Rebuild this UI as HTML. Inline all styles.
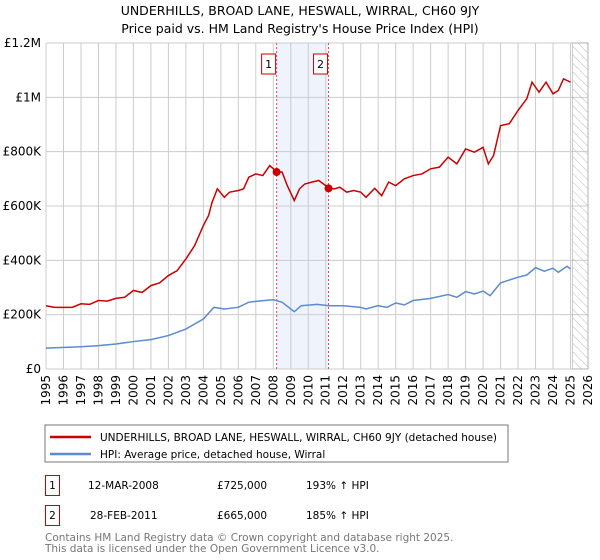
<!DOCTYPE html>
<html><head><meta charset="utf-8"><style>
body{margin:0;background:#fff;font-family:"Liberation Sans","DejaVu Sans",sans-serif;}
svg{display:block}
</style></head><body>
<svg width="600" height="560" viewBox="0 0 600 560" xmlns="http://www.w3.org/2000/svg" font-family="DejaVu Sans, Liberation Sans, sans-serif">
<defs><pattern id="hatch" patternUnits="userSpaceOnUse" width="6" height="6" patternTransform="rotate(-45)"><line x1="0" y1="0" x2="0" y2="6" stroke="#bbb" stroke-width="1"/></pattern></defs>
<text x="300" y="15" text-anchor="middle" font-size="12.5" fill="#000">UNDERHILLS, BROAD LANE, HESWALL, WIRRAL, CH60 9JY</text>
<text x="300" y="33" text-anchor="middle" font-size="12.5" fill="#000">Price paid vs. HM Land Registry's House Price Index (HPI)</text>
<g id="grid"></g><g id="marks"></g><g id="axes"></g>
<rect x="45" y="425" width="463" height="37" fill="#fff" stroke="#777"/>
<line x1="50" y1="437" x2="91" y2="437" stroke="#cc0000" stroke-width="2.5"/>
<text x="100" y="441" font-size="10.5">UNDERHILLS, BROAD LANE, HESWALL, WIRRAL, CH60 9JY (detached house)</text>
<line x1="50" y1="454" x2="91" y2="454" stroke="#5b8bd0" stroke-width="2.5"/>
<text x="100" y="458" font-size="10.5">HPI: Average price, detached house, Wirral</text>
<g font-size="10.5">
<rect x="45.5" y="475.5" width="14" height="20" fill="#fff" stroke="#cc0000"/>
<text x="52.5" y="489" text-anchor="middle">1</text>
<text x="88" y="489">12-MAR-2008</text>
<text x="217" y="489">£725,000</text>
<text x="306" y="489">193% ↑ HPI</text>
<rect x="45.5" y="505.5" width="14" height="20" fill="#fff" stroke="#cc0000"/>
<text x="52.5" y="519" text-anchor="middle">2</text>
<text x="90" y="519">28-FEB-2011</text>
<text x="217" y="519">£665,000</text>
<text x="306" y="519">185% ↑ HPI</text>
</g>
<text x="45" y="541" font-size="10.5" fill="#777">Contains HM Land Registry data © Crown copyright and database right 2025.</text>
<text x="45" y="552" font-size="10.5" fill="#777">This data is licensed under the Open Government Licence v3.0.</text>
</svg>
<script>
const redYears=[1995,1995.5,1996.5,1997,1997.5,1998,1998.5,1999,1999.5,2000,2000.5,2001,2001.5,2002,2002.5,2003,2003.5,2004,2004.3,2004.5,2004.8,2005.2,2005.5,2006,2006.3,2006.6,2007,2007.4,2007.8,2008.2,2008.5,2008.8,2009.2,2009.5,2009.8,2010.2,2010.6,2011.0,2011.2,2011.5,2011.8,2012.2,2012.6,2013.0,2013.3,2013.8,2014.2,2014.6,2015,2015.5,2016,2016.5,2017,2017.5,2018,2018.5,2019,2019.5,2020,2020.3,2020.6,2021,2021.5,2022,2022.5,2022.8,2023.2,2023.6,2024,2024.3,2024.6,2025.0];
const redValues=[233,227,227,240,238,252,250,260,264,289,282,307,317,344,362,405,454,528,565,614,663,632,651,657,663,706,718,712,749,725,725,675,620,663,681,688,694,675,665,663,669,651,657,651,632,665,638,688,675,700,712,718,737,743,780,755,810,798,816,755,786,896,903,952,995,1056,1019,1056,1013,1025,1068,1056];
const hpiYears=[1995,1997,1998,1999,2000,2001,2002,2003,2004,2004.6,2005.2,2006,2006.6,2007.5,2008,2008.5,2009.2,2009.6,2010.5,2011.2,2012,2013,2013.3,2014,2014.5,2015,2015.5,2016,2017,2018,2018.5,2019,2019.5,2020,2020.4,2021,2022,2022.5,2023,2023.5,2024,2024.3,2024.8,2025];
const hpiValues=[77,82,86,92,101,108,123,147,184,227,221,227,246,252,255,246,211,233,238,233,233,227,221,233,227,243,236,252,260,274,264,285,276,287,270,317,338,346,373,360,371,356,378,368];
const saleYears=[2008.19,2011.16];
const saleValues=[725,665];
const saleLabels=["1","2"];
const yTicks=[0,200,400,600,800,1000,1200];
const yTickLabels=["£0","£200K","£400K","£600K","£800K","£1M","£1.2M"];
const xTicks=[1995,1996,1997,1998,1999,2000,2001,2002,2003,2004,2005,2006,2007,2008,2009,2010,2011,2012,2013,2014,2015,2016,2017,2018,2019,2020,2021,2022,2023,2024,2025,2026];
const L=46,R=588,T=43,B=369,dataEnd=2025.12;
const X=y=>L+(y-1995)/(2026-1995)*(R-L);
const Y=v=>B-v/1200*(B-T);
const NS="http://www.w3.org/2000/svg";
function mk(tag,attrs,parent){const e=document.createElementNS(NS,tag);for(const k in attrs)e.setAttribute(k,attrs[k]);parent.appendChild(e);return e;}
const grid=document.getElementById('grid'),marks=document.getElementById('marks'),axes=document.getElementById('axes');
let band=mk('rect',{x:X(saleYears[0]),y:T,width:X(saleYears[1])-X(saleYears[0]),height:B-T,fill:'#eef3fc'},grid);


xTicks.forEach(t=>{const l=mk('line',{x1:X(t),x2:X(t),y1:T,y2:B,stroke:'#ccc'},grid);


const tx=mk('text',{x:0,y:0,'font-size':12,'text-anchor':'end',transform:`translate(${X(t)+4},${B+6}) rotate(-90)`},axes);tx.textContent=t;

});
yTicks.forEach((t,i)=>{const l=mk('line',{x1:L,x2:R,y1:Y(t),y2:Y(t),stroke:'#ccc'},grid);


const tx=mk('text',{x:L-5,y:Y(t)+4,'font-size':12,'text-anchor':'end'},axes);tx.textContent=yTickLabels[i];

});
let h=mk('rect',{x:X(dataEnd),y:T,width:R-X(dataEnd),height:B-T,fill:'url(#hatch)',stroke:'#999','stroke-width':0.5},grid);


saleYears.forEach((s,i)=>{const l=mk('line',{x1:X(s),x2:X(s),y1:T,y2:B,stroke:'#e05050','stroke-dasharray':'2,2'},marks);


const r=mk('rect',{x:X(s)-15,y:54,width:14,height:20,fill:'#fff',stroke:'#cc0000'},marks);


const t=mk('text',{x:X(s)-8,y:68,'font-size':11,'text-anchor':'middle'},marks);t.textContent=saleLabels[i];

});
const hp=mk('polyline',{points:hpiYears.map((y,i)=>X(y)+','+Y(hpiValues[i])).join(' '),fill:'none',stroke:'#5b8bd0','stroke-width':1.5},marks);


const rp=mk('polyline',{points:redYears.map((y,i)=>X(y)+','+Y(redValues[i])).join(' '),fill:'none',stroke:'#cc0000','stroke-width':1.5},marks);


saleYears.forEach((s,i)=>{const c=mk('circle',{cx:X(s),cy:Y(saleValues[i]),r:4,fill:'#cc0000'},marks);

});
</script>
</body></html>
